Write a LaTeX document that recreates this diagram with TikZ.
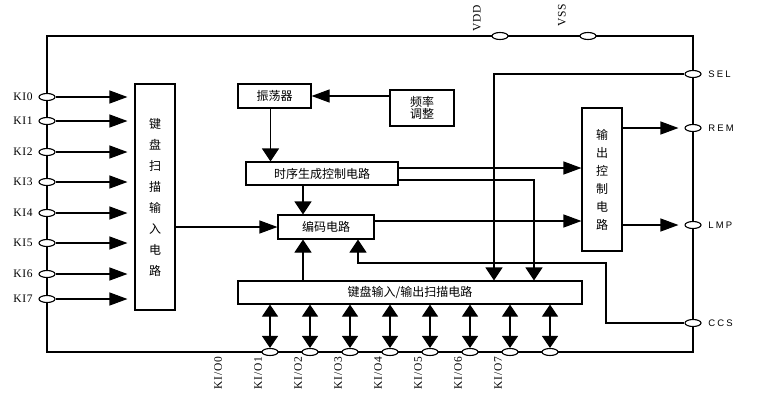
\documentclass[tikz,border=0pt]{standalone}
\usepackage{fontspec}
\setmainfont{Liberation Serif}
\newfontfamily\cjk{Noto Sans CJK SC}
\newfontfamily\kifont[LetterSpace=6]{Liberation Serif}
\newfontfamily\pinfont[LetterSpace=22]{Liberation Sans}
\usetikzlibrary{arrows.meta,positioning,calc,shapes.geometric}

\tikzset{
  blk/.style={draw,inner sep=0pt,align=center,font=\cjk\fontsize{12}{14}\selectfont},
  pin/.style={draw,ellipse,fill=white,inner sep=0pt,minimum width=16pt,minimum height=7pt},
  harr/.style={-{Triangle[length=18pt,width=13pt]}},
  varr/.style={-{Triangle[length=13pt,width=17pt]}},
  darr/.style={{Triangle[length=12pt,width=16pt]}-{Triangle[length=12pt,width=16pt]}},
  kilbl/.style={font=\kifont\fontsize{11.5}{13}\selectfont},
  outlbl/.style={font=\pinfont\fontsize{9.5}{11}\selectfont,anchor=west},
}

\begin{document}
\begin{tikzpicture}[x=1pt,y=-1pt,line width=1.1pt]
\useasboundingbox (0,0) rectangle (783,407);
% chip outline
\draw (47,36) rectangle (693,352);

% blocks
\node[blk,minimum width=40pt,minimum height=226pt,font=\cjk\fontsize{12}{21}\selectfont] (scan) at (155,197) {键\\盘\\扫\\描\\输\\入\\电\\路};
\node[blk,minimum width=73pt,minimum height=24pt] (osc) at (274.5,96) {振荡器};
\node[blk,minimum width=64pt,minimum height=36pt,font=\cjk\fontsize{12}{12.5}\selectfont] (freq) at (422,108) {频率\\调整};
\node[blk,minimum width=152pt,minimum height=23pt] (timing) at (322,173.5) {时序生成控制电路};
\node[blk,minimum width=96pt,minimum height=24pt] (enc) at (326,227) {编码电路};
\node[blk,minimum width=40pt,minimum height=143pt,font=\cjk\fontsize{12}{18}\selectfont] (outc) at (602,179.5) {输\\出\\控\\制\\电\\路};
\node[blk,minimum width=344pt,minimum height=23pt] (io) at (410,292.5) {键盘输入/输出扫描电路};

% pins on the top and right side
\node[pin] (vdd) at (500,36) {};
\node[pin] (vss) at (588,36) {};
\node[kilbl,rotate=90] at ([xshift=-23pt,yshift=18pt]vdd.center) {VDD};
\node[kilbl,rotate=90] at ([xshift=-26pt,yshift=21pt]vss.center) {VSS};
\node[pin] (sel) at (693,74) {};
\node[pin] (rem) at (693,128) {};
\node[pin] (lmp) at (693,225) {};
\node[pin] (ccs) at (693,323) {};
\node[outlbl] at ([xshift=3pt]sel.east) {SEL};
\node[outlbl] at ([xshift=3pt]rem.east) {REM};
\node[outlbl] at ([xshift=3pt]lmp.east) {LMP};
\node[outlbl] at ([xshift=3pt]ccs.east) {CCS};

% key inputs
\foreach \i/\y in {0/97,1/121,2/152,3/182,4/213,5/243,6/274,7/299} {
  \node[pin] (ki\i) at (47,\y) {};
  \node[kilbl,anchor=east] at ([xshift=-2pt]ki\i.west) {KI\i};
  \draw[harr,shorten >=7pt] (ki\i.east) -- (ki\i.east -| scan.west);
}

% key in/out lines
\foreach \i in {0,...,7} {
  \node[pin] (kio\i) at (270+40*\i,352) {};
  \node[kilbl,rotate=90] at ([xshift=-52pt,yshift=-21pt]kio\i.center) {KI/O\i};
  \draw[darr] (kio\i.north |- io.south) -- (kio\i.north);
}

% internal signals
\draw[harr] (freq.west |- osc.east) -- (osc.east);
\draw[varr] ([xshift=-4pt]osc.south) -- ([xshift=-4pt]osc.south |- timing.north);
\draw[varr] ([xshift=-19pt]timing.south) -- ([xshift=-19pt]timing.south |- enc.north);
\draw[harr] (scan.east |- enc.west) -- (enc.west);
\draw[harr] ([yshift=5.5pt]timing.east) -- ([yshift=5.5pt]timing.east -| outc.west);
\draw[varr] ([yshift=-6.5pt]timing.east) -| ([xshift=124pt]io.north);
\draw[harr] ([yshift=6pt]enc.east) -- ([yshift=6pt]enc.east -| outc.west);
\draw[varr] ([xshift=-107pt]io.north) -- ([xshift=-107pt]io.north |- enc.south);
\draw[varr] (sel.west) -| ([xshift=84pt]io.north);
\coordinate (ccsturn) at (606,263);
\draw[varr] (ccs.west) -| (ccsturn) -| ([xshift=32pt]enc.south);
\draw[harr,shorten >=6pt] (outc.east |- rem.west) -- (rem.west);
\draw[harr,shorten >=6pt] (outc.east |- lmp.west) -- (lmp.west);
\end{tikzpicture}
\end{document}
